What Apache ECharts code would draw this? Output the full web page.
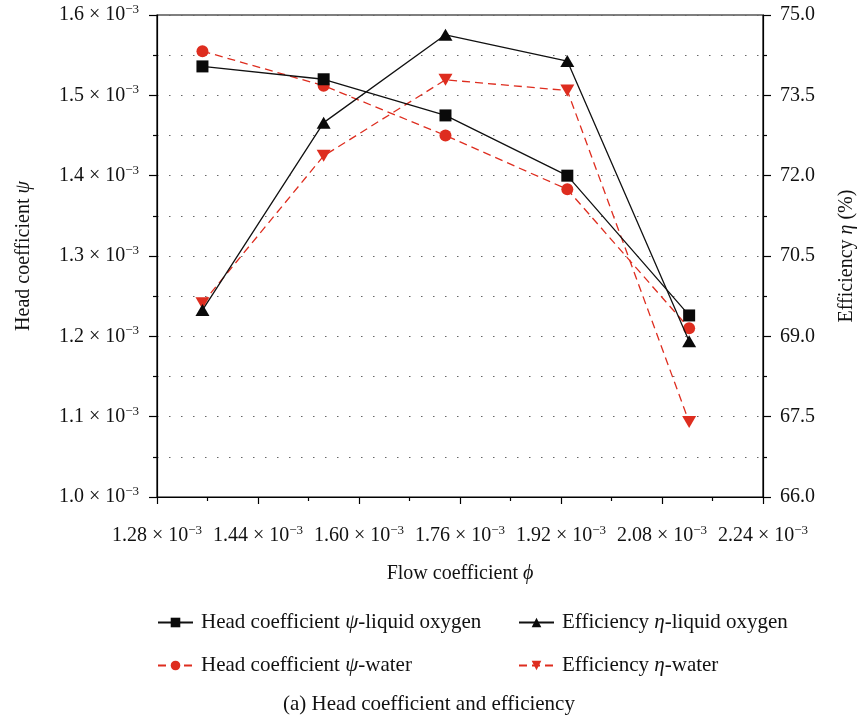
<!DOCTYPE html>
<html>
<head>
<meta charset="utf-8">
<script src="https://cdn.jsdelivr.net/npm/echarts@6/dist/echarts.min.js"></script>
<style>
html,body{margin:0;padding:0;background:#fff;}
#c{width:858px;height:716px;}
</style>
</head>
<body>
<div id="c"></div>
<script>
// Flow coefficient phi (units of 1e-3)
var flowCoeff = [1.352, 1.544, 1.737, 1.930, 2.123];
// Head coefficient psi (units of 1e-3)
var headLOX   = [1.536, 1.520, 1.475, 1.400, 1.226];
var headWater = [1.555, 1.512, 1.450, 1.383, 1.210];
// Efficiency eta (%)
var effLOX    = [69.49, 72.99, 74.63, 74.14, 68.91];
var effWater  = [69.62, 72.37, 73.79, 73.59, 67.40];

var names = [
  'Head coefficient ψ-liquid oxygen',
  'Efficiency η-liquid oxygen',
  'Head coefficient ψ-water',
  'Efficiency η-water'
];

function pair(xs, ys){ return xs.map(function(x,i){ return [x, ys[i]]; }); }

var FONT = '"Liberation Serif", "DejaVu Serif", serif';
var FS = 20;
var FL = 21;
var RED = '#de2d1f';
var rich = {
  s: {fontSize: 13, fontFamily: FONT, color: '#111', verticalAlign: 'top', lineHeight: 13},
  i: {fontSize: FS, fontFamily: FONT, color: '#111', fontStyle: 'italic'}
};
var richL = {
  i: {fontSize: FL, fontFamily: FONT, color: '#111', fontStyle: 'italic'}
};
function sciLabel(digits){
  return function(v){ return v.toFixed(digits) + ' × 10{s|−3}'; };
}
function italicize(n){ return n.replace('ψ','{i|ψ}').replace('η','{i|η}'); }

var chart = echarts.init(document.getElementById('c'), null, {renderer:'canvas'});
var dotted = {color:'#666', width:1, type:[1.5, 10.5]};

var legendText = {fontFamily: FONT, fontSize: FL, color: '#111', rich: richL, padding: [0,0,0,3]};

var option = {
  backgroundColor: '#fff',
  animation: false,
  textStyle: {fontFamily: FONT},
  title: {
    text: '(a) Head coefficient and efficiency',
    left: 'center', top: 689,
    textStyle: {fontFamily: FONT, fontSize: FL, fontWeight: 'normal', color: '#111'}
  },
  grid: {left: 157, right: 95, top: 15, height: 482, show: true, borderColor: '#000', borderWidth: 1.2,
         containLabel: false, outerBoundsMode: 'none'},
  legend: [
    {
      data: [names[0], names[2]],
      orient: 'vertical', left: 157, top: 612, padding: 0,
      itemWidth: 35, itemHeight: 12, itemGap: 22,
      formatter: italicize,
      textStyle: legendText
    },
    {
      data: [names[1], names[3]],
      orient: 'vertical', left: 518, top: 612, padding: 0,
      itemWidth: 35, itemHeight: 12, itemGap: 22,
      formatter: italicize,
      textStyle: legendText
    }
  ],
  xAxis: {
    type: 'value', min: 1.28, max: 2.24, interval: 0.16,
    name: 'Flow coefficient {i|ϕ}', nameLocation: 'middle', nameGap: 67,
    nameTextStyle: {fontFamily: FONT, fontSize: FS, color: '#111', rich: rich},
    axisLine: {show: true, lineStyle: {color: '#000', width: 1.2}},
    axisTick: {show: true, inside: false, length: 7, lineStyle: {color: '#000', width: 1.2}},
    minorTick: {show: true, splitNumber: 2, length: 4, lineStyle: {color: '#000', width: 1.2}},
    splitLine: {show: false},
    axisLabel: {margin: 27, formatter: sciLabel(2), fontFamily: FONT, fontSize: FS, color: '#111', lineHeight: 24, rich: rich}
  },
  yAxis: [
    {
      type: 'value', min: 1.0, max: 1.6, interval: 0.1, position: 'left',
      name: 'Head coefficient {i|ψ}', nameLocation: 'middle', nameGap: 123, nameRotate: 90,
      nameTextStyle: {fontFamily: FONT, fontSize: FS, color: '#111', rich: rich},
      axisLine: {show: true, lineStyle: {color: '#000', width: 1.2}},
      axisTick: {show: true, inside: false, length: 8, lineStyle: {color: '#000', width: 1.2}},
      minorTick: {show: true, splitNumber: 2, length: 4, lineStyle: {color: '#000', width: 1.2}},
      splitLine: {show: true, lineStyle: dotted},
      minorSplitLine: {show: true, lineStyle: dotted},
      axisLabel: {margin: 18, formatter: sciLabel(1), fontFamily: FONT, fontSize: FS, color: '#111', lineHeight: 24, rich: rich}
    },
    {
      type: 'value', min: 66, max: 75, interval: 1.5, position: 'right',
      name: 'Efficiency {i|η} (%)', nameLocation: 'middle', nameGap: 74, nameRotate: 90,
      nameTextStyle: {fontFamily: FONT, fontSize: FS, color: '#111', rich: rich},
      axisLine: {show: true, lineStyle: {color: '#000', width: 1.2}},
      axisTick: {show: true, inside: false, length: 8, lineStyle: {color: '#000', width: 1.2}},
      minorTick: {show: true, splitNumber: 2, length: 4, lineStyle: {color: '#000', width: 1.2}},
      splitLine: {show: false},
      axisLabel: {margin: 17, formatter: function(v){ return v.toFixed(1); }, fontFamily: FONT, fontSize: FS, color: '#111'}
    }
  ],
  series: [
    {
      name: names[0], type: 'line', yAxisIndex: 0, data: pair(flowCoeff, headLOX),
      symbol: 'rect', symbolSize: 12, z: 3,
      lineStyle: {color: '#111', width: 1.3, type: 'solid'},
      itemStyle: {color: '#0a0a0a'}
    },
    {
      name: names[1], type: 'line', yAxisIndex: 1, data: pair(flowCoeff, effLOX),
      symbol: 'triangle', symbolSize: [14, 12], z: 3,
      lineStyle: {color: '#111', width: 1.3, type: 'solid'},
      itemStyle: {color: '#0a0a0a'}
    },
    {
      name: names[2], type: 'line', yAxisIndex: 0, data: pair(flowCoeff, headWater),
      symbol: 'circle', symbolSize: 12, z: 2,
      lineStyle: {color: RED, width: 1.3, type: [8, 5]},
      itemStyle: {color: RED}
    },
    {
      name: names[3], type: 'line', yAxisIndex: 1, data: pair(flowCoeff, effWater),
      symbol: 'triangle', symbolRotate: 180, symbolSize: [14, 12], z: 2,
      lineStyle: {color: RED, width: 1.3, type: [8, 5]},
      itemStyle: {color: RED}
    }
  ]
};
chart.setOption(option);
</script>
</body>
</html>
